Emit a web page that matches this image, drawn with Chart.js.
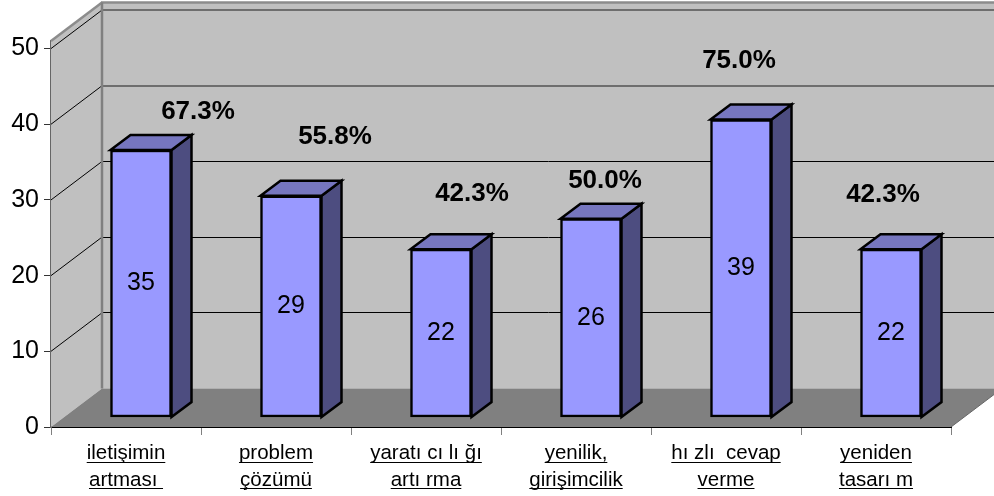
<!DOCTYPE html>
<html>
<head>
<meta charset="utf-8">
<script src="https://cdn.jsdelivr.net/npm/chart.js@4"></script>
<style>
    html, body { margin: 0; padding: 0; background: #fff; overflow: hidden; }
    canvas { display: block; }
</style>
</head>
<body>
<canvas id="chart" width="994" height="496"></canvas>
<script>
const categories = [
    ['iletişimin', 'artması '],
    ['problem', 'çözümü'],
    ['yaratı cı lı ğı', 'artı rma'],
    ['yenilik,', 'girişimcilik'],
    ['hı zlı  cevap', 'verme'],
    ['yeniden', 'tasarı m']
];
const counts = [35, 29, 22, 26, 39, 22];
const percents = ['67.3%', '55.8%', '42.3%', '50.0%', '75.0%', '42.3%'];
const yTicks = [0, 10, 20, 30, 40, 50];

// the percent labels were hand placed in the original, offsets are from the bar top centre
const percentShiftX = [57, 44, 31, 14, -2, -8];
const percentShiftY = [-38, -59, -55, -38, -59, -54];

const fontName = '"Liberation Sans", Arial, sans-serif';
const wallDepthX = 51;
const wallDepthY = 38.5;
const barShiftX = 15;
const barShiftY = -10;
const barDepthX = 20;
const barDepthY = -15;

function poly(ctx, points, fill, stroke, width) {
    ctx.beginPath();
    ctx.moveTo(points[0][0], points[0][1]);
    points.slice(1).forEach(p => ctx.lineTo(p[0], p[1]));
    ctx.closePath();
    if (fill) {
        ctx.fillStyle = fill;
        ctx.fill();
    }
    if (stroke) {
        ctx.strokeStyle = stroke;
        ctx.lineWidth = width;
        ctx.lineJoin = 'miter';
        ctx.stroke();
    }
}

function line(ctx, x1, y1, x2, y2, color, width) {
    ctx.beginPath();
    ctx.moveTo(x1, y1);
    ctx.lineTo(x2, y2);
    ctx.strokeStyle = color;
    ctx.lineWidth = width;
    ctx.stroke();
}

const box3d = {
    id: 'box3d',
    // walls, floor and grid
    beforeDatasetsDraw(chart) {
        const ctx = chart.ctx;
        const area = chart.chartArea;
        const y = chart.scales.y;
        const base = y.getPixelForValue(0);
        const backX = area.left + wallDepthX;
        const far = area.right + wallDepthX;

        poly(ctx, [[area.left, area.top], [backX, area.top - wallDepthY], [backX, base - wallDepthY], [area.left, base]], '#c0c0c0');
        poly(ctx, [[backX, area.top - wallDepthY], [far, area.top - wallDepthY], [far, base - wallDepthY], [backX, base - wallDepthY]], '#c0c0c0');
        poly(ctx, [[area.left, base], [backX, base - wallDepthY], [far, base - wallDepthY], [area.right, base]], '#808080');

        yTicks.slice(1).forEach(v => {
            const py = y.getPixelForValue(v);
            line(ctx, area.left, py, backX, py - wallDepthY, '#000', 1);
            if (v >= 40) {
                line(ctx, backX, Math.round(py - wallDepthY), far, Math.round(py - wallDepthY), '#6e6e6e', 2);
            } else {
                line(ctx, backX, Math.floor(py - wallDepthY) + 0.5, far, Math.floor(py - wallDepthY) + 0.5, '#000', 1);
            }
        });

        line(ctx, area.left, area.top, backX, area.top - wallDepthY, '#8c8c8c', 2.5);
        line(ctx, backX - 1, area.top - wallDepthY, far, area.top - wallDepthY, '#8c8c8c', 2.5);
        line(ctx, backX, area.top - wallDepthY, backX, base - wallDepthY, '#808080', 2.5);
        line(ctx, area.right, base, far, base - wallDepthY, '#666', 1);
    },
    // top and side of each bar go down first, the library then paints the front on them
    beforeDatasetDraw(chart, args) {
        const ctx = chart.ctx;
        ctx.save();
        ctx.translate(barShiftX, barShiftY);
        chart.getDatasetMeta(args.index).data.forEach(bar => {
            const left = bar.x - bar.width / 2;
            const right = bar.x + bar.width / 2;
            const sidePts = [[right, bar.y], [right + barDepthX, bar.y + barDepthY], [right + barDepthX, bar.base + barDepthY], [right, bar.base]];
            const topPts = [[left, bar.y], [left + barDepthX, bar.y + barDepthY], [right + barDepthX, bar.y + barDepthY], [right, bar.y]];
            poly(ctx, sidePts, '#4d4d80', '#000', 2.5);
            poly(ctx, topPts, '#7676bf', '#000', 2.5);
        });
    },
    afterDatasetDraw(chart, args) {
        const ctx = chart.ctx;
        ctx.textAlign = 'center';
        ctx.textBaseline = 'middle';
        ctx.fillStyle = '#000';
        chart.getDatasetMeta(args.index).data.forEach((bar, i) => {
            ctx.font = '25px ' + fontName;
            ctx.fillText(String(counts[i]), bar.x, (bar.y + bar.base) / 2);
            ctx.font = 'bold 26px ' + fontName;
            ctx.fillText(percents[i], bar.x + percentShiftX[i], bar.y + percentShiftY[i]);
        });
        ctx.restore();

        // canvas text has no underline so it is drawn by hand under the tick labels
        const x = chart.scales.x;
        ctx.save();
        ctx.font = '20.5px ' + fontName;
        ctx.fillStyle = '#000';
        categories.forEach((lines, i) => {
            const cx = x.getPixelForValue(i);
            lines.forEach((text, n) => {
                const w = ctx.measureText(text).width;
                ctx.fillRect(cx - w / 2, 462 + n * 26, w, 1);
            });
        });
        ctx.restore();
    }
};

new Chart(document.getElementById('chart').getContext('2d'), {
    type: 'bar',
    data: {
        labels: categories,
        datasets: [{
            data: counts,
            yAxisID: 'barAxis',
            backgroundColor: '#9999ff',
            borderColor: '#000',
            borderWidth: 2.5,
            borderSkipped: false,
            barThickness: 61,
            clip: false
        }]
    },
    options: {
        responsive: false,
        animation: false,
        layout: { padding: { top: 41, right: 43, left: 0, bottom: 0 } },
        plugins: { legend: { display: false }, tooltip: { enabled: false } },
        scales: {
            x: {
                afterFit: scale => { scale.height = 69; },
                grid: { drawOnChartArea: false, color: '#808080', tickLength: 8 },
                border: { color: '#000', width: 2 },
                ticks: {
                    color: '#000',
                    padding: 5,
                    maxRotation: 0,
                    autoSkip: false,
                    font: { family: fontName, size: 20.5, lineHeight: 1.32 }
                }
            },
            y: {
                min: 0,
                max: 51,
                afterFit: scale => { scale.width = 51; },
                grid: { drawOnChartArea: false, color: '#333', tickLength: 7 },
                border: { color: '#666', width: 2 },
                ticks: {
                    stepSize: 10,
                    includeBounds: false,
                    color: '#000',
                    padding: 5,
                    font: { family: fontName, size: 25 }
                }
            },
            // bars stand a little in front of the wall, so they scale a little larger
            barAxis: {
                display: false,
                min: 0,
                max: 50.6
            }
        }
    },
    plugins: [box3d]
});
</script>
</body>
</html>
